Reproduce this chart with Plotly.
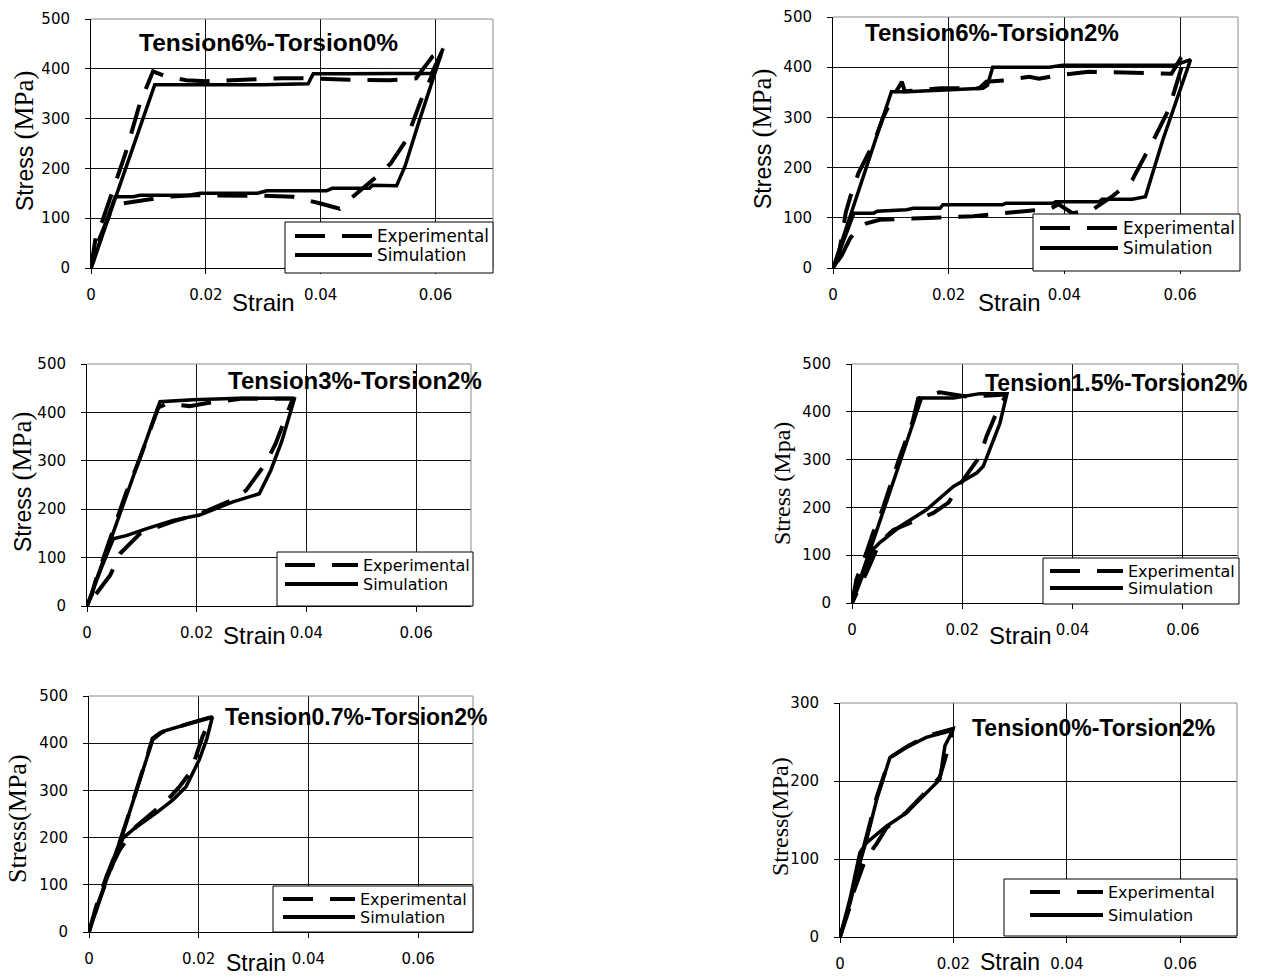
import plotly.graph_objects as go

W, H = 1261, 979

# ---------------- data ----------------
titles = ["Tension6%-Torsion0%", "Tension6%-Torsion2%", "Tension3%-Torsion2%",
          "Tension1.5%-Torsion2%", "Tension0.7%-Torsion2%", "Tension0%-Torsion2%"]
series_names = ["Experimental", "Simulation"]
x_ticks = [0, 0.02, 0.04, 0.06]
x_tick_text = ["0", "0.02", "0.04", "0.06"]
y_ticks_500 = [0, 100, 200, 300, 400, 500]
y_ticks_300 = [0, 100, 200, 300]

# Tension6%-Torsion0%
t6_0_exp_strain = [0, 0.001, 0.002, 0.004, 0.006, 0.0085, 0.0108, 0.013, 0.0166, 0.02, 0.0247, 0.03, 0.0334, 0.038,
                   0.045, 0.052, 0.0566, 0.0595, 0.0613, 0.0575, 0.0549, 0.0522, 0.0497, 0.0456, 0.0433, 0.0398,
                   0.0352, 0.03, 0.0247, 0.018, 0.0132, 0.008, 0.0056, 0.0033, 0.0015, 0]
t6_0_exp_stress = [0, 75, 95, 160, 230, 330, 395, 385, 377, 375, 377, 380, 381, 381,
                   378, 377, 381, 425, 438, 338, 257, 210, 183, 143, 119, 130,
                   143, 145, 146, 146, 143, 135, 130, 109, 60, 0]
t6_0_sim_strain = [0, 0.0005, 0.002, 0.004, 0.0065, 0.009, 0.0111, 0.015, 0.02, 0.03, 0.0378, 0.0387, 0.045, 0.052,
                   0.0593, 0.0613, 0.0595, 0.057, 0.0547, 0.0532, 0.049, 0.0485, 0.042, 0.041, 0.0306, 0.029, 0.019,
                   0.017, 0.0085, 0.0074, 0.0042, 0.003, 0.0015, 0]
t6_0_sim_stress = [0, 15, 66, 133, 216, 300, 368, 368, 368, 368, 370, 390, 390, 390,
                   391, 441, 380, 290, 205, 165, 166, 160, 160, 155, 155, 150, 150,
                   146, 146, 143, 143, 105, 52, 0]

# Tension6%-Torsion2%
t6_2_exp_strain = [0, 0.0008, 0.0015, 0.0022, 0.003, 0.0044, 0.007, 0.0087, 0.0104, 0.0119, 0.0124, 0.0185, 0.0253,
                   0.0265, 0.0299, 0.0339, 0.0356, 0.039, 0.0442, 0.0585, 0.0602, 0.0609, 0.058, 0.0557, 0.0517,
                   0.0482, 0.0448, 0.0414, 0.039, 0.0375, 0.0356, 0.0299, 0.0242, 0.015, 0.0081, 0.0058, 0.0047,
                   0.003, 0.0015, 0]
t6_2_exp_stress = [0, 15, 60, 110, 142, 189, 248, 301, 341, 371, 352, 358, 358,
                   371, 374, 381, 377, 384, 391, 387, 420, 424, 315, 262, 175,
                   142, 116, 109, 127, 118, 116, 109, 103, 99, 96, 89, 83,
                   60, 25, 0]
t6_2_sim_strain = [0, 0.002, 0.004, 0.006, 0.0085, 0.0101, 0.0127, 0.019, 0.0259, 0.0267, 0.0276, 0.0374, 0.0397,
                   0.05, 0.0591, 0.0618, 0.0595, 0.057, 0.055, 0.054, 0.0517, 0.0465, 0.046, 0.0385, 0.038, 0.0299,
                   0.0293, 0.019, 0.0185, 0.0139, 0.0127, 0.0076, 0.007, 0.0036, 0.0013, 0]
t6_2_sim_stress = [0, 70, 140, 208, 295, 351, 351, 354, 358, 364, 400, 400, 404,
                   404, 404, 415, 340, 255, 180, 142, 137, 137, 132, 132, 129, 129,
                   126, 126, 119, 119, 116, 113, 109, 109, 38, 0]

# Tension3%-Torsion2%
t3_2_exp_strain = [0, 0.0009, 0.0015, 0.004, 0.007, 0.0098, 0.012, 0.013, 0.0145, 0.0187, 0.0217, 0.028, 0.0375,
                   0.0356, 0.0344, 0.0326, 0.029, 0.0266, 0.0205, 0.0157, 0.0097, 0.006, 0.0042, 0.001, 0]
t3_2_exp_stress = [0, 24, 50, 130, 230, 310, 375, 410, 418, 413, 419, 428, 428,
                   370, 336, 295, 239, 220, 190, 175, 150, 108, 63, 15, 0]
t3_2_sim_strain = [0, 0.003, 0.006, 0.009, 0.0133, 0.0193, 0.0278, 0.0375, 0.0378, 0.0355, 0.0335, 0.0314, 0.0266,
                   0.0205, 0.0157, 0.0109, 0.0073, 0.0048, 0.0025, 0]
t3_2_sim_stress = [0, 95, 190, 285, 422, 426, 429, 429, 428, 340, 280, 232, 215,
                   188, 177, 160, 146, 139, 75, 0]

# Tension1.5%-Torsion2%
t15_2_exp_strain = [0, 0.0008, 0.0026, 0.0038, 0.0055, 0.0085, 0.011, 0.012, 0.0159, 0.0207, 0.025, 0.028, 0.0262,
                    0.0244, 0.0232, 0.0202, 0.0175, 0.0147, 0.011, 0.0075, 0.005, 0.0026, 0]
t15_2_exp_stress = [0, 49, 105, 146, 195, 300, 380, 428, 441, 432, 434, 436, 398,
                    349, 307, 258, 210, 188, 170, 153, 126, 63, 0]
t15_2_sim_strain = [0, 0.003, 0.006, 0.009, 0.0126, 0.0184, 0.0232, 0.0281, 0.0268, 0.025, 0.0238, 0.0226, 0.0184,
                    0.0135, 0.0087, 0.005, 0.0038, 0.0015, 0]
t15_2_sim_stress = [0, 100, 205, 305, 429, 429, 438, 438, 375, 320, 286, 272, 244,
                    195, 160, 126, 112, 45, 0]

# Tension0.7%-Torsion2%
t07_2_exp_strain = [0, 0.0013, 0.0032, 0.005, 0.007, 0.009, 0.0116, 0.013, 0.0177, 0.0223, 0.0207, 0.0195, 0.0183,
                    0.0165, 0.014, 0.0086, 0.0056, 0.0044, 0.0019, 0]
t07_2_exp_stress = [0, 54, 118, 170, 240, 315, 410, 422, 440, 455, 414, 372, 336,
                    308, 276, 224, 174, 146, 68, 0]
t07_2_sim_strain = [0, 0.002, 0.004, 0.0062, 0.009, 0.0116, 0.0135, 0.0177, 0.0225, 0.0215, 0.0201, 0.0177, 0.0153,
                    0.0122, 0.008, 0.0062, 0.0032, 0]
t07_2_sim_stress = [0, 70, 140, 210, 310, 407, 425, 439, 456, 410, 365, 308, 280,
                    252, 217, 199, 111, 0]

# Tension0%-Torsion2%
t0_2_exp_strain = [0, 0.0018, 0.004, 0.0065, 0.0088, 0.012, 0.0155, 0.0199, 0.019, 0.0176, 0.015, 0.0117, 0.0082,
                   0.0065, 0.0045, 0.0025, 0]
t0_2_exp_stress = [0, 40, 110, 180, 230, 245, 258, 267, 240, 205, 185, 160, 140,
                   120, 100, 60, 0]
t0_2_sim_strain = [0, 0.0018, 0.0035, 0.0047, 0.0065, 0.0088, 0.0117, 0.0152, 0.0199, 0.0185, 0.0176, 0.0152, 0.0117,
                   0.0082, 0.0047, 0.0035, 0.0018, 0]
t0_2_sim_stress = [0, 44, 95, 125, 177, 230, 243, 256, 265, 245, 202, 185, 159,
                   142, 121, 108, 50, 0]

exp_data = [(t6_0_exp_strain, t6_0_exp_stress), (t6_2_exp_strain, t6_2_exp_stress),
            (t3_2_exp_strain, t3_2_exp_stress), (t15_2_exp_strain, t15_2_exp_stress),
            (t07_2_exp_strain, t07_2_exp_stress), (t0_2_exp_strain, t0_2_exp_stress)]
sim_data = [(t6_0_sim_strain, t6_0_sim_stress), (t6_2_sim_strain, t6_2_sim_stress),
            (t3_2_sim_strain, t3_2_sim_stress), (t15_2_sim_strain, t15_2_sim_stress),
            (t07_2_sim_strain, t07_2_sim_stress), (t0_2_sim_strain, t0_2_sim_stress)]
y_max = [500, 500, 500, 500, 500, 300]

# ---------------- layout geometry (pixels) ----------------
plot_boxes = [(91, 493, 19, 268), (833, 1238, 17, 268), (87, 471, 364, 606),
              (852, 1238, 364, 603), (89, 473, 696, 932), (840, 1237, 703, 937)]
# legend: box L, T, R, B, line start x, line length, text x, row1 y, row2 y, font size
legend_geo = [
    (285, 222, 493, 273, 295, 77, 375, 236, 255, 16.8),
    (1033, 214, 1240, 271, 1040, 78, 1121, 228, 248, 16.8),
    (277, 552, 473, 606, 285, 73, 361, 565, 584, 16),
    (1043, 558, 1239, 604, 1050, 73, 1126, 571, 588, 16),
    (273, 886, 473, 932, 283, 72, 358, 899, 917, 16),
    (1004, 879, 1237, 936, 1030, 73, 1106, 892, 915, 16),
]
title_pos = [(268, 42, 24.5), (992, 32, 24), (355, 380, 24), (1116, 383, 23), (356, 717, 23), (1093, 728, 23)]
strain_pos = [(263, 302, 24), (1009, 302, 24), (254, 635, 24), (1020, 635, 24), (256, 963, 23), (1010, 962, 23)]
SANS = "Liberation Sans"
SERIF = "Liberation Serif"
mixed = "Stress <span style=\"font-family:Liberation Serif;font-size:27px\">(MPa)</span>"
stress_labels = [
    (mixed, SANS, 23, 24, 141),
    (mixed, SANS, 23, 762, 139),
    (mixed, SANS, 23, 22, 482),
    ("Stress (Mpa)", SERIF, 24, 782, 484),
    ("Stress(MPa)", SERIF, 26, 17, 819),
    ("Stress(MPa)", SERIF, 24, 780, 817),
]

fig = go.Figure()
layout = dict(template="none", width=W, height=H, autosize=False,
              margin=dict(l=0, r=0, t=0, b=0, pad=0, autoexpand=False),
              paper_bgcolor="white", plot_bgcolor="white", showlegend=False,
              font=dict(family="DejaVu Sans", color="black"))
annotations = []
shapes = []


def px_x(v):
    return v / W


def px_y(v):
    return 1 - v / H


for i in range(6):
    n = i + 1
    sfx = "" if n == 1 else str(n)
    L, R, T, B = plot_boxes[i]
    xa = dict(domain=[px_x(L), px_x(R)], range=[0, 0.07], tickvals=x_ticks, ticktext=x_tick_text,
              showgrid=True, gridcolor="#111111", gridwidth=1, zeroline=False, automargin=False,
              showline=True, linecolor="black", linewidth=1,
              ticks="outside", ticklen=5, tickcolor="black", tickwidth=1,
              tickfont=dict(family="DejaVu Sans", size=15, color="black"),
              ticklabelstandoff=8, anchor="y" + sfx, fixedrange=True)
    yt = y_ticks_500 if y_max[i] == 500 else y_ticks_300
    ya = dict(domain=[px_y(B), px_y(T)], range=[0, y_max[i]], tickvals=yt,
              showgrid=True, gridcolor="#111111", gridwidth=1, zeroline=False, automargin=False,
              showline=True, linecolor="black", linewidth=1,
              ticks="outside", ticklen=5, tickcolor="black", tickwidth=1,
              tickfont=dict(family="DejaVu Sans", size=15, color="black"),
              ticklabelstandoff=12, anchor="x" + sfx, fixedrange=True)
    layout["xaxis" + sfx] = xa
    layout["yaxis" + sfx] = ya

    ex, ey = exp_data[i]
    sx, sy = sim_data[i]
    fig.add_trace(go.Scatter(x=ex, y=ey, mode="lines", name=series_names[0],
                             line=dict(color="black", width=4, dash="30px,17px"),
                             xaxis="x" + sfx, yaxis="y" + sfx, hoverinfo="skip"))
    fig.add_trace(go.Scatter(x=sx, y=sy, mode="lines", name=series_names[1],
                             line=dict(color="black", width=3.5),
                             xaxis="x" + sfx, yaxis="y" + sfx, hoverinfo="skip"))

    # gray top & right plot-area border
    shapes.append(dict(type="line", xref="x" + sfx + " domain", yref="y" + sfx + " domain",
                       x0=0, x1=1, y0=1, y1=1, line=dict(color="#8c8c8c", width=1)))
    shapes.append(dict(type="line", xref="x" + sfx + " domain", yref="y" + sfx + " domain",
                       x0=1, x1=1, y0=0, y1=1, line=dict(color="#8c8c8c", width=1)))

    # legend box
    bl, bt, br, bb, lx0, llen, tx0, r1, r2, lfs = legend_geo[i]
    shapes.append(dict(type="rect", xref="paper", yref="paper", x0=px_x(bl), x1=px_x(br),
                       y0=px_y(bb), y1=px_y(bt), fillcolor="white", line=dict(color="black", width=1)))
    for row_y, nm, dash in ((r1, series_names[0], "30px,17px"), (r2, series_names[1], "solid")):
        shapes.append(dict(type="line", xref="paper", yref="paper", x0=px_x(lx0), x1=px_x(lx0 + llen),
                           y0=px_y(row_y), y1=px_y(row_y), line=dict(color="black", width=4, dash=dash)))
        annotations.append(dict(text=nm, x=px_x(tx0), y=px_y(row_y), xref="paper", yref="paper",
                                xanchor="left", yanchor="middle", showarrow=False,
                                font=dict(family="DejaVu Sans", size=lfs, color="black")))

    tx, ty, tfs = title_pos[i]
    annotations.append(dict(text="<b>" + titles[i] + "</b>", x=px_x(tx), y=px_y(ty),
                            xref="paper", yref="paper", xanchor="center", yanchor="middle",
                            showarrow=False, font=dict(family=SANS, size=tfs, color="black")))
    sxp, syp, sfs = strain_pos[i]
    annotations.append(dict(text="Strain", x=px_x(sxp), y=px_y(syp), xref="paper", yref="paper",
                            xanchor="center", yanchor="middle", showarrow=False,
                            font=dict(family=SANS, size=sfs, color="black")))
    txt, fam, fs, pxx, pyy = stress_labels[i]
    annotations.append(dict(text=txt, x=px_x(pxx), y=px_y(pyy), xref="paper", yref="paper",
                            xanchor="center", yanchor="middle", showarrow=False, textangle=-90,
                            font=dict(family=fam, size=fs, color="black")))

layout["annotations"] = annotations
layout["shapes"] = shapes
fig.update_layout(**layout)
fig.write_html("out.html")
